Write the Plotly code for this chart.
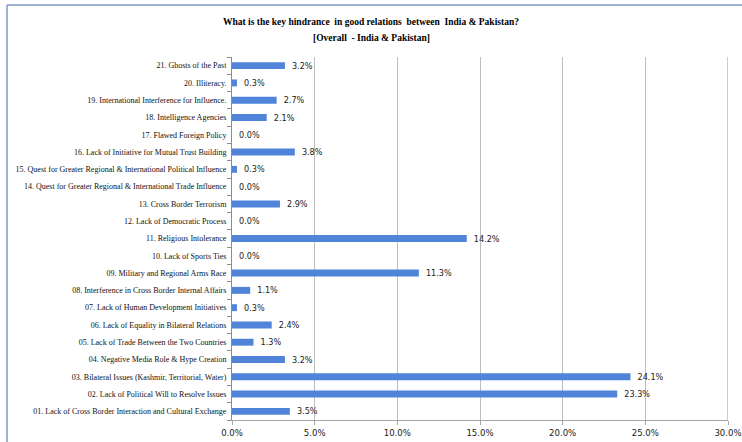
import plotly.graph_objects as go

# Survey categories, listed bottom-to-top as they appear on the axis
categories = [
    "01. Lack of Cross Border Interaction and Cultural Exchange",
    "02. Lack of Political Will to Resolve Issues",
    "03. Bilateral Issues (Kashmir, Territorial, Water)",
    "04. Negative Media Role & Hype Creation",
    "05. Lack of Trade Between the Two Countries",
    "06. Lack of Equality in Bilateral Relations",
    "07. Lack of Human Development Initiatives",
    "08. Interference in Cross Border Internal Affairs",
    "09. Military and Regional Arms Race",
    "10. Lack of Sports Ties",
    "11. Religious Intolerance",
    "12. Lack of Democratic Process",
    "13. Cross Border Terrorism",
    "14. Quest for Greater Regional & International Trade Influence",
    "15. Quest for Greater Regional & International Political Influence",
    "16. Lack of Initiative for Mutual Trust Building",
    "17. Flawed Foreign Policy",
    "18. Intelligence Agencies",
    "19. International Interference for Influence.",
    "20. Illiteracy.",
    "21. Ghosts of the Past",
]

# Share of respondents (%)
shares = [3.5, 23.3, 24.1, 3.2, 1.3, 2.4, 0.3, 1.1, 11.3, 0.0, 14.2,
          0.0, 2.9, 0.0, 0.3, 3.8, 0.0, 2.1, 2.7, 0.3, 3.2]

x_ticks = [0, 5, 10, 15, 20, 25, 30]
x_tick_labels = ["0.0%", "5.0%", "10.0%", "15.0%", "20.0%", "25.0%", "30.0%"]

title_lines = [
    "What is the key hindrance  in good relations  between  India & Pakistan?",
    "[Overall  - India & Pakistan]",
]

SERIF = "Liberation Serif, Times New Roman, serif"
SANS = "Liberation Sans Narrow, DejaVu Sans Condensed, Liberation Sans, sans-serif"

fig = go.Figure(
    go.Bar(
        x=shares,
        y=categories,
        orientation="h",
        marker=dict(color="#4f84d8", line=dict(width=0)),
        width=0.40,
        texttemplate="\u2002%{x:.1f}%",
        textposition="outside",
        constraintext="none",
        textfont=dict(family=SANS, size=9, color="#222222"),
        cliponaxis=False,
    )
)

W, H = 742, 442
L, R, T, B = 232, 14, 57, 22
pw, ph = W - L - R, H - T - B

def px_x(p):
    return (p - L) / pw

def px_y(p):
    return (H - B - p) / ph

# two-line bold heading, centred on the page
title_annotations = [
    dict(text=line, xref="paper", yref="paper", x=px_x(W / 2), y=px_y(yc),
         xanchor="center", yanchor="middle", showarrow=False,
         font=dict(family=SERIF, size=9.5, color="#000000", weight="bold"))
    for line, yc in zip(title_lines, [22, 38])
]

fig.update_layout(
    width=W,
    height=H,
    margin=dict(l=L, r=R, t=T, b=B, pad=0, autoexpand=False),
    paper_bgcolor="white",
    plot_bgcolor="white",
    showlegend=False,
    annotations=title_annotations,
    xaxis=dict(
        range=[0, 30],
        tickvals=x_ticks,
        ticktext=x_tick_labels,
        showgrid=True,
        gridcolor="#bdbdbd",
        gridwidth=1,
        zeroline=False,
        showline=True,
        linecolor="#a6a6a6",
        ticks="outside",
        ticklen=4,
        tickcolor="#a6a6a6",
        tickfont=dict(family=SANS, size=9.5, color="#222222"),
        ticklabeloverflow="allow",
        automargin=False,
    ),
    yaxis=dict(
        categoryorder="array",
        categoryarray=categories,
        showline=True,
        linecolor="#8c8c8c",
        ticks="outside",
        tickson="boundaries",
        ticklen=4,
        tickcolor="#8c8c8c",
        tickfont=dict(family=SERIF, size=8, color="#111111"),
        showgrid=False,
        ticklabelstandoff=3,
        automargin=False,
    ),
    bargap=0.6,
    shapes=[
        # right border of the plot area
        dict(type="line", xref="x", yref="paper", x0=30, x1=30, y0=0, y1=1,
             line=dict(color="#9a9a9a", width=1)),
        # outer chart frame (top and left edges)
        dict(type="line", xref="paper", yref="paper",
             x0=px_x(7), x1=px_x(W + 5), y0=px_y(5), y1=px_y(5),
             line=dict(color="#7f98c8", width=1.5)),
        dict(type="line", xref="paper", yref="paper",
             x0=px_x(7), x1=px_x(7), y0=px_y(5), y1=px_y(H + 5),
             line=dict(color="#7f98c8", width=1.5)),
    ],
)

fig.write_html("out.html")
